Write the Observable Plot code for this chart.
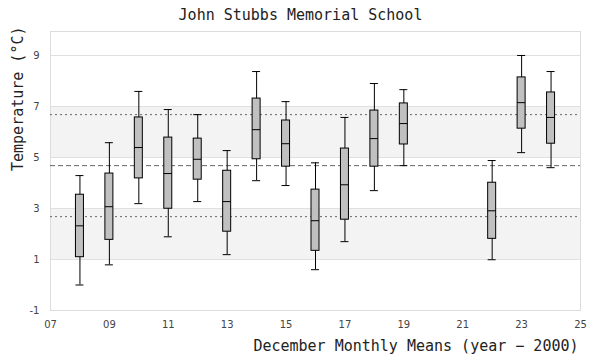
<!DOCTYPE html>
<html>
<head>
<meta charset="utf-8">
<script src="https://cdn.jsdelivr.net/npm/d3@7"></script>
<script src="https://cdn.jsdelivr.net/npm/@observablehq/plot@0.6"></script>
<style>
  html, body { margin: 0; padding: 0; background: #fff; }
  svg { display: block; }
</style>
</head>
<body>
<div id="chart"></div>
<script>
// ---- data ----
const title = "John Stubbs Memorial School";
const xLabel = "December Monthly Means (year − 2000)";
const yLabel = "Temperature (°C)";

const years       = [8, 9, 10, 11, 12, 13, 14, 15, 16, 17, 18, 19, 22, 23, 24];
const whiskerLow  = [0.00, 0.79, 3.19, 1.89, 3.27, 1.19, 4.09, 3.90, 0.60, 1.70, 3.70, 4.68, 0.99, 5.19, 4.60];
const q1          = [1.09, 1.77, 4.18, 2.99, 4.13, 2.09, 4.93, 4.64, 1.34, 2.56, 4.64, 5.51, 1.81, 6.13, 5.54];
const median      = [2.32, 3.07, 5.39, 4.37, 4.93, 3.27, 6.09, 5.54, 2.52, 3.93, 5.74, 6.33, 2.91, 7.15, 6.57];
const q3          = [3.54, 4.37, 6.57, 5.78, 5.74, 4.48, 7.31, 6.45, 3.74, 5.35, 6.84, 7.12, 4.01, 8.14, 7.55];
const whiskerHigh = [4.29, 5.58, 7.59, 6.88, 6.68, 5.27, 8.37, 7.19, 4.79, 6.57, 7.90, 7.66, 4.88, 9.00, 8.37];

const overallMean = 4.68;
const sdBounds    = [2.68, 6.68];

const bandLow  = [1, 5];
const bandHigh = [3, 7];

const xTicks = [7, 9, 11, 13, 15, 17, 19, 21, 23, 25];
const yTicks = [-1, 1, 3, 5, 7, 9];
const gridTicks = [1, 3, 5, 7, 9];

// ---- tables built from the arrays ----
const boxes = years.map((yr, i) => ({
  year: yr, lo: whiskerLow[i], q1: q1[i], med: median[i], q3: q3[i], hi: whiskerHigh[i]
}));
const bands = bandLow.map((b, i) => ({y1: b, y2: bandHigh[i]}));

const mono = "'DejaVu Sans Mono', 'Liberation Mono', monospace";
const half = -4;

const chart = Plot.plot({
  width: 600,
  height: 360,
  marginTop: 31,
  marginBottom: 50,
  marginLeft: 50,
  marginRight: 20,
  style: {fontFamily: "'DejaVu Sans', sans-serif", fontSize: "10px", color: "#444", background: "#fff"},
  x: {type: "linear", domain: [7, 25]},
  y: {domain: [-1, 9.94]},
  marks: [
    Plot.rect(bands, {y1: "y1", y2: "y2", fill: "#f3f3f3"}),
    Plot.gridY(gridTicks, {stroke: "#e0e0e0", strokeOpacity: 1}),
    Plot.frame({stroke: "#dcdcdc"}),
    Plot.ruleY([overallMean], {stroke: "#666", strokeDasharray: "5,3"}),
    Plot.ruleY(sdBounds, {stroke: "#666", strokeDasharray: "2,3"}),
    // whiskers
    Plot.ruleX(boxes, {x: "year", y1: "lo", y2: "hi", stroke: "#000"}),
    Plot.ruleY(boxes, {y: "hi", x1: "year", x2: "year", insetLeft: half, insetRight: half, stroke: "#000"}),
    Plot.ruleY(boxes, {y: "lo", x1: "year", x2: "year", insetLeft: half, insetRight: half, stroke: "#000"}),
    // boxes
    Plot.rect(boxes, {x1: "year", x2: "year", y1: "q1", y2: "q3", insetLeft: half, insetRight: half,
                      fill: "#c0c0c0", stroke: "#000", strokeWidth: 1}),
    Plot.ruleY(boxes, {y: "med", x1: "year", x2: "year", insetLeft: half, insetRight: half, stroke: "#000"}),
    // axes
    Plot.axisX(xTicks, {tickSize: 0, tickPadding: 10, tickFormat: d3.format("02d"), label: null, fill: "#444"}),
    Plot.axisY(yTicks, {tickSize: 0, tickPadding: 11, label: null, fill: "#444",
                        tickFormat: d => (d < 0 ? "-" : "") + Math.abs(d)}),
    // labels
    Plot.text([title], {frameAnchor: "top", dx: -15, dy: -16, lineAnchor: "middle",
                        fontFamily: mono, fontSize: 15, fill: "#222"}),
    Plot.text([xLabel], {frameAnchor: "bottom-right", textAnchor: "end", dx: -2, dy: 36, lineAnchor: "middle",
                         fontFamily: mono, fontSize: 15, fill: "#222"}),
    Plot.text([yLabel], {frameAnchor: "left", rotate: -90, dx: -32, lineAnchor: "middle",
                         fontFamily: mono, fontSize: 15, fill: "#222"})
  ]
});
document.getElementById("chart").appendChild(chart);
</script>
</body>
</html>
